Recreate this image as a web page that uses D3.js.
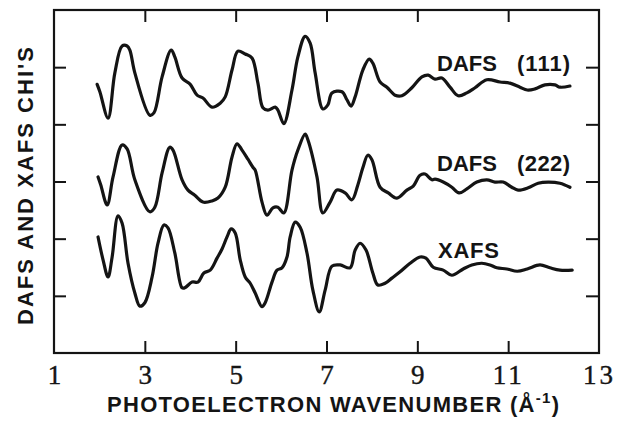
<!DOCTYPE html>
<html>
<head>
<meta charset="utf-8">
<script src="https://cdn.jsdelivr.net/npm/d3@7"></script>
<style>
html,body{margin:0;padding:0;background:#fff;}
svg{display:block;}
</style>
</head>
<body>
<svg id="chart" width="628" height="421"></svg>
<script>
// ---- Data (k in 1/Angstrom, stacked chi values in plot units) ----
const xTicks = [1, 3, 5, 7, 9, 11, 13];
const yTicks = [1, 2, 3, 4, 5];

const dafs111K = [1.95,2.01,2.19,2.34,2.50,2.61,2.67,2.78,3.11,3.20,3.38,3.58,3.66,3.82,4.00,4.15,4.28,4.48,4.66,4.77,4.92,5.05,5.21,5.36,5.49,5.60,5.71,5.87,5.93,6.06,6.24,6.37,6.53,6.64,6.75,6.92,7.03,7.12,7.34,7.45,7.54,7.63,7.80,7.94,8.02,8.18,8.33,8.51,8.66,8.88,9.10,9.24,9.39,9.54,9.72,9.90,10.09,10.27,10.53,10.82,11.04,11.26,11.42,11.59,11.81,12.03,12.14,12.36];
const dafs111V = [4.70,4.57,4.11,4.90,5.37,5.37,5.30,4.90,4.16,4.20,4.83,5.30,5.18,4.81,4.70,4.51,4.46,4.30,4.37,4.48,4.95,5.28,5.23,5.16,4.72,4.29,4.25,4.30,4.25,4.01,4.60,5.18,5.54,5.42,4.90,4.27,4.34,4.55,4.57,4.43,4.32,4.48,4.95,5.14,5.07,4.74,4.65,4.51,4.50,4.64,4.83,4.86,4.79,4.81,4.65,4.50,4.55,4.64,4.78,4.74,4.72,4.65,4.60,4.62,4.69,4.69,4.65,4.67];

const dafs222K = [1.97,2.03,2.17,2.30,2.50,2.61,2.78,3.11,3.22,3.38,3.55,3.62,3.82,3.95,4.10,4.28,4.48,4.61,4.77,4.92,5.03,5.14,5.27,5.38,5.43,5.58,5.69,5.82,5.93,6.06,6.24,6.37,6.53,6.59,6.79,6.92,7.08,7.23,7.41,7.56,7.69,7.80,7.91,8.00,8.18,8.36,8.55,8.77,8.91,9.06,9.17,9.32,9.39,9.57,9.76,9.92,10.09,10.31,10.53,10.71,10.89,11.08,11.22,11.44,11.66,11.88,12.14,12.36];
const dafs222V = [3.08,2.94,2.59,3.08,3.64,3.57,3.03,2.47,2.55,3.15,3.60,3.55,3.03,2.85,2.76,2.64,2.66,2.71,2.90,3.43,3.66,3.55,3.39,3.25,3.20,2.64,2.41,2.54,2.55,2.45,3.20,3.55,3.83,3.73,3.08,2.45,2.64,2.85,2.80,2.68,2.94,3.24,3.46,3.38,2.90,2.80,2.71,2.85,2.92,3.11,3.13,3.03,3.04,2.99,2.90,2.80,2.87,2.99,3.03,2.99,2.99,2.90,2.85,2.89,2.97,2.99,2.97,2.90];

const xafsK = [1.97,2.08,2.19,2.28,2.41,2.50,2.63,2.78,2.89,3.00,3.16,3.29,3.42,3.51,3.66,3.82,3.88,4.04,4.17,4.30,4.44,4.59,4.70,4.81,4.90,4.99,5.10,5.21,5.32,5.43,5.58,5.65,5.80,5.91,6.02,6.13,6.20,6.31,6.42,6.57,6.70,6.84,6.97,7.12,7.30,7.52,7.63,7.74,7.87,8.02,8.13,8.29,8.44,8.62,8.84,9.06,9.19,9.35,9.57,9.76,10.01,10.20,10.42,10.60,10.75,10.97,11.20,11.42,11.70,11.92,12.14,12.41];
const xafsV = [2.03,1.63,1.33,1.68,2.40,2.27,1.57,1.05,0.82,0.88,1.33,1.92,2.24,2.19,1.75,1.14,1.14,1.24,1.24,1.40,1.45,1.66,1.82,2.03,2.17,2.10,1.63,1.33,1.22,1.05,0.81,0.88,1.24,1.45,1.49,1.68,2.03,2.29,2.20,1.75,1.10,0.72,1.10,1.52,1.54,1.49,1.80,1.92,1.80,1.40,1.19,1.22,1.31,1.42,1.57,1.68,1.66,1.50,1.45,1.36,1.47,1.54,1.57,1.54,1.49,1.47,1.43,1.47,1.54,1.49,1.45,1.45];

const seriesLabels = ["DAFS", "(111)", "DAFS", "(222)", "XAFS"];
const xTitle = "PHOTOELECTRON WAVENUMBER (Å";
const yTitle = "DAFS AND XAFS CHI'S";

// ---- Layout ----
const svg = d3.select("#chart");
const x = d3.scaleLinear().domain([1, 13]).range([54, 599]);
const y = d3.scaleLinear().domain([0, 6]).range([353, 10]);
const ink = "#141414";

// frame
svg.append("rect")
  .attr("x", x(1)).attr("y", y(6))
  .attr("width", x(13) - x(1)).attr("height", y(0) - y(6))
  .attr("fill", "none").attr("stroke", ink).attr("stroke-width", 2.2);

function styleAxis(g) {
  g.select(".domain").remove();
  g.selectAll(".tick line").attr("stroke", ink).attr("stroke-width", 2);
}

// bottom axis with labels
const gb = svg.append("g").attr("transform", `translate(0,${y(0)})`)
  .call(d3.axisBottom(x).tickValues(xTicks).tickSizeInner(-12).tickSizeOuter(0).tickPadding(12).tickFormat(d3.format("d")));
styleAxis(gb);
gb.selectAll(".tick line").filter(d => d === 1 || d === 13).remove();
gb.selectAll(".tick text")
  .attr("font-family", "'Liberation Serif', 'DejaVu Serif', serif")
  .attr("font-size", 27).attr("fill", ink).attr("dy", "0.71em")
  .attr("stroke", ink).attr("stroke-width", 0.4)
  .attr("letter-spacing", d => d >= 10 ? 3 : 0);

// top axis (ticks only)
const gt = svg.append("g").attr("transform", `translate(0,${y(6)})`)
  .call(d3.axisTop(x).tickValues(xTicks.slice(1, -1)).tickSizeInner(-12).tickSizeOuter(0).tickFormat(""));
styleAxis(gt);

// left and right axes (ticks only)
const gl = svg.append("g").attr("transform", `translate(${x(1)},0)`)
  .call(d3.axisLeft(y).tickValues(yTicks).tickSizeInner(-12).tickSizeOuter(0).tickFormat(""));
styleAxis(gl);
const gr = svg.append("g").attr("transform", `translate(${x(13)},0)`)
  .call(d3.axisRight(y).tickValues(yTicks).tickSizeInner(-13).tickSizeOuter(0).tickFormat(""));
styleAxis(gr);

// curves
const line = d3.line().x(d => x(d[0])).y(d => y(d[1])).curve(d3.curveCatmullRom.alpha(0.5));
[[dafs111K, dafs111V], [dafs222K, dafs222V], [xafsK, xafsV]].forEach(([ks, vs]) => {
  svg.append("path")
    .datum(ks.map((k, i) => [k, vs[i]]))
    .attr("d", line)
    .attr("fill", "none").attr("stroke", ink)
    .attr("stroke-width", 3.2).attr("stroke-linejoin", "round").attr("stroke-linecap", "round");
});

// series labels
const sans = "'Liberation Sans', Arial, Helvetica, sans-serif";
const labelPos = [[437, 71], [517, 71], [437, 171], [517, 171], [438, 258]];
const labelLen = [60, 53, 60, 53, 61];
seriesLabels.forEach((t, i) => {
  svg.append("text").attr("x", labelPos[i][0]).attr("y", labelPos[i][1])
    .attr("font-family", sans).attr("font-weight", "bold").attr("font-size", 22)
    .attr("textLength", labelLen[i]).attr("lengthAdjust", "spacing")
    .attr("fill", ink).text(t);
});

// x title
const xt = svg.append("text").attr("x", 107).attr("y", 412)
  .attr("font-family", sans).attr("font-weight", "bold").attr("font-size", 22)
  .attr("fill", ink).attr("textLength", 452).attr("lengthAdjust", "spacing");
xt.append("tspan").text(xTitle);
xt.append("tspan").attr("dy", -9).attr("font-size", 15).text("-1");
xt.append("tspan").attr("dy", 9).text(")");

// y title
svg.append("text")
  .attr("transform", "translate(33,325) rotate(-90)")
  .attr("font-family", sans).attr("font-weight", "bold").attr("font-size", 22)
  .attr("fill", ink).attr("textLength", 278).attr("lengthAdjust", "spacing")
  .text(yTitle);
</script>
</body>
</html>
